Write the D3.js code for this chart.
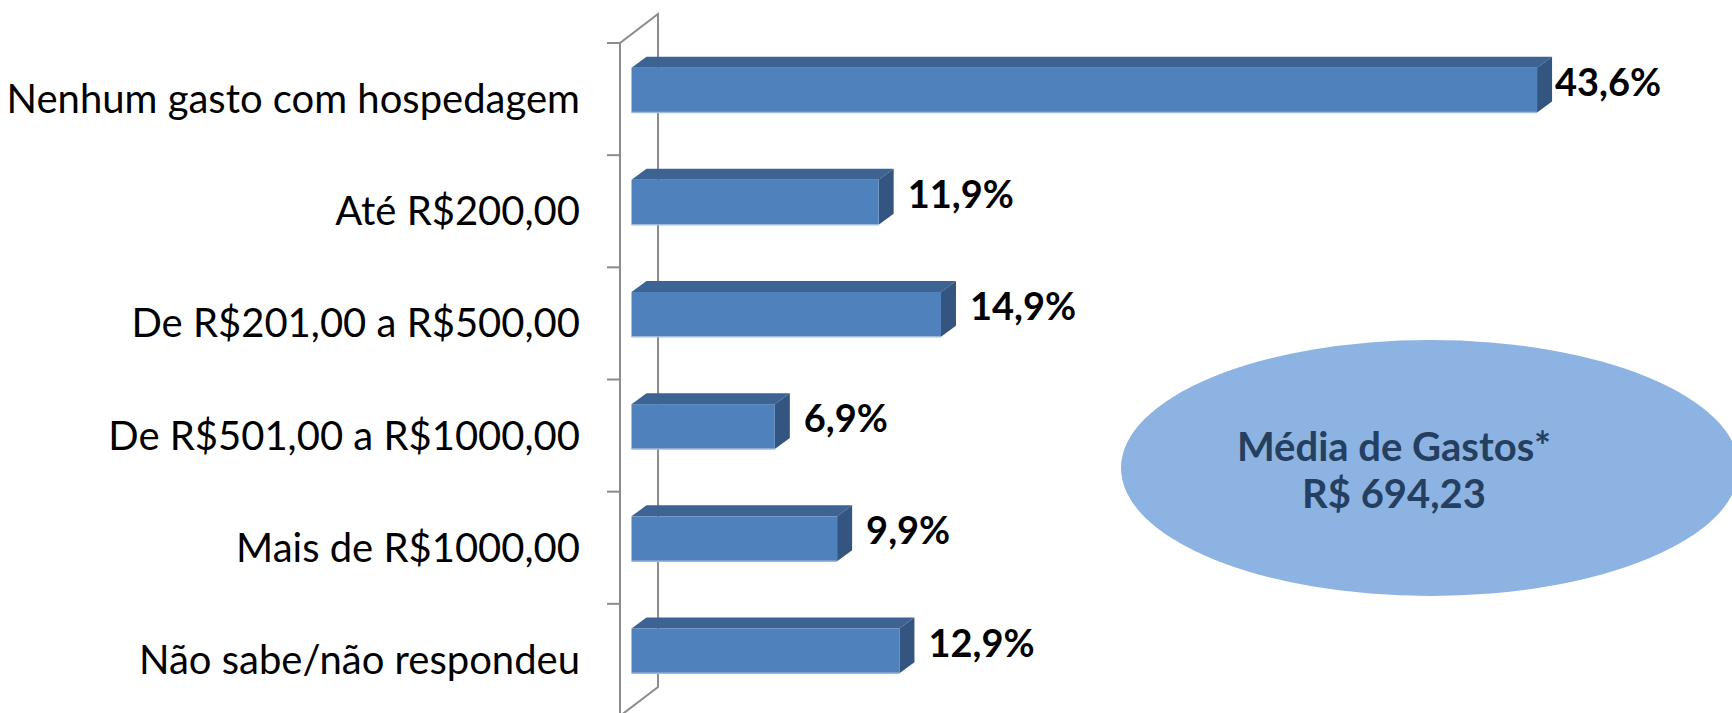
<!DOCTYPE html>
<html>
<head>
<meta charset="utf-8">
<script src="https://cdn.jsdelivr.net/npm/d3@7"></script>
<style>
  body { margin: 0; background: #fff; }
  svg { display: block; font-family: Lato, "Open Sans", sans-serif; }
</style>
</head>
<body>
<script>
// data
const categories = [
  "Nenhum gasto com hospedagem",
  "Até R$200,00",
  "De R$201,00 a R$500,00",
  "De R$501,00 a R$1000,00",
  "Mais de R$1000,00",
  "Não sabe/não respondeu"
];
const values = [43.6, 11.9, 14.9, 6.9, 9.9, 12.9];
const valueLabels = ["43,6%", "11,9%", "14,9%", "6,9%", "9,9%", "12,9%"];
const noteLines = ["Média de Gastos*", "R$ 694,23"];

const width = 1732, height = 713;

// 3d look: floor depth and bar depth
const wallDx = 38, wallDy = -29;
const barDx = 15, barDy = -11;
const axisX = 620;

const svg = d3.select("body").append("svg")
  .attr("width", width)
  .attr("height", height);

const y = d3.scaleBand()
  .domain(categories)
  .range([43, 716])
  .paddingInner(0.6)
  .paddingOuter(0.3);

const x = d3.scaleLinear()
  .domain([0, 50])
  .range([0, 1038.5]);

// offset of bar front face from the front plane
const offX = (wallDx - barDx) / 2;
const offY = (wallDy - barDy) / 2;

// back wall + side wall lines
const yTop = y.range()[0], yBottom = y.range()[1];
const axisColor = "#8c8c8c";
const walls = svg.append("g").attr("stroke", axisColor).attr("stroke-width", 2).attr("fill", "none");
walls.append("path")
  .attr("d", `M${axisX},${yTop} L${axisX + wallDx},${yTop + wallDy} L${axisX + wallDx},${yBottom + wallDy} L${axisX},${yBottom} Z`);

// ticks on category boundaries
const bounds = d3.range(categories.length + 1).map(i => yTop + i * y.step());
walls.selectAll("line.tick")
  .data(bounds)
  .join("line")
  .attr("class", "tick")
  .attr("x1", axisX - 13).attr("x2", axisX)
  .attr("y1", d => d).attr("y2", d => d);

// bars
const rows = categories.map((c, i) => ({c, v: values[i], label: valueLabels[i]}));

const bars = svg.append("g").selectAll("g")
  .data(rows)
  .join("g");

bars.each(function(d) {
  const g = d3.select(this);
  const x0 = axisX + offX;
  const x1 = x0 + x(d.v);
  const y0 = y(d.c) + offY;
  const h = y.bandwidth();
  // top face
  g.append("path")
    .attr("d", `M${x0},${y0} L${x0 + barDx},${y0 + barDy} L${x1 + barDx},${y0 + barDy} L${x1},${y0} Z`)
    .attr("fill", "#3d6392");
  // side face
  g.append("path")
    .attr("d", `M${x1},${y0} L${x1 + barDx},${y0 + barDy} L${x1 + barDx},${y0 + barDy + h} L${x1},${y0 + h} Z`)
    .attr("fill", "#33557f");
  // front face
  g.append("rect")
    .attr("x", x0).attr("y", y0)
    .attr("width", x1 - x0).attr("height", h)
    .attr("fill", "#4f81bd");
  g.append("line")
    .attr("x1", x0).attr("x2", x1)
    .attr("y1", y0 + h).attr("y2", y0 + h)
    .attr("stroke", "#9dbbe0").attr("stroke-width", 1.5);
});

// category labels
svg.append("g").selectAll("text")
  .data(categories)
  .join("text")
  .attr("x", 580)
  .attr("y", d => y(d) + y.bandwidth() / 2)
  .attr("dy", "0.35em")
  .attr("text-anchor", "end")
  .attr("font-size", 40)
  .attr("fill", "#000")
  .text(d => d);

// value labels
svg.append("g").selectAll("text")
  .data(rows)
  .join("text")
  .attr("x", d => Math.min(axisX + offX + x(d.v) + barDx + 14, 1555))
  .attr("y", d => y(d.c) + offY + y.bandwidth() / 2 - 8)
  .attr("dy", "0.36em")
  .attr("font-size", 38)
  .attr("font-weight", "bold")
  .attr("fill", "#000")
  .text(d => d.label);

// note bubble
const note = svg.append("g");
note.append("ellipse")
  .attr("cx", 1430).attr("cy", 468)
  .attr("rx", 309).attr("ry", 128)
  .attr("fill", "#8db3e2");
note.selectAll("text")
  .data(noteLines)
  .join("text")
  .attr("x", 1394)
  .attr("y", (d, i) => 447 + i * 47)
  .attr("dy", "0.36em")
  .attr("text-anchor", "middle")
  .attr("font-size", 40)
  .attr("font-weight", "bold")
  .attr("fill", "#243f60")
  .text(d => d);
</script>
</body>
</html>
